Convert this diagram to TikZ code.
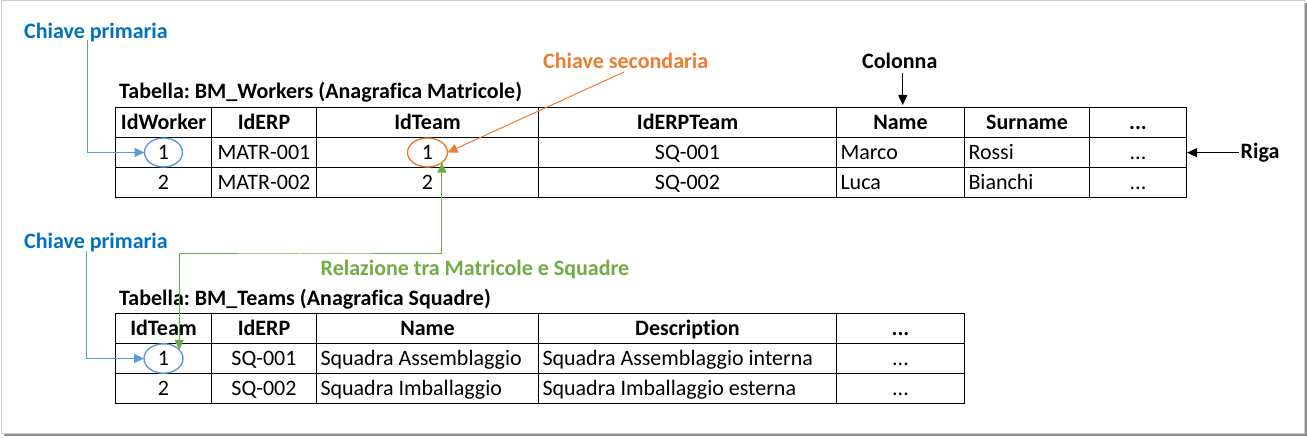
\documentclass[tikz,border=0pt]{standalone}
\usepackage{fontspec}
\setmainfont{Carlito}[Ligatures=NoCommon]
\usetikzlibrary{arrows.meta,shapes.geometric}
\definecolor{cpblue}{HTML}{0070C0}
\definecolor{lnblue}{HTML}{5B9BD5}
\definecolor{orng}{HTML}{ED7D31}
\definecolor{grn}{HTML}{70AD47}
\newcommand\cf{\fontsize{22}{26}\selectfont\frenchspacing}
\begin{document}
\begin{tikzpicture}[x=1pt,y=-1pt,
 cell/.style={draw,line width=1pt,minimum height=30pt,inner ysep=0pt,inner xsep=4pt,text height=16pt,text depth=2pt,anchor=north west,font=\cf},
 hdr/.style={cell,font=\cf\bfseries},
 lft/.style={align=flush left},
 lbl/.style={anchor=base west,inner sep=0pt,font=\cf\bfseries},
 oval/.style={ellipse,draw,line width=1.4pt,inner sep=0pt,outer sep=0pt,font=\cf,text=black},
 conn/.style={line width=1pt,-{Triangle[length=10pt,width=9pt]}},
]
\useasboundingbox (0,0) rectangle (1307,438);
% frame
\fill[black!45] (4,3) rectangle (1306.5,436);
\filldraw[fill=white,draw=black!20,line width=1pt] (1.5,0.5) rectangle (1304,433.5);

% labels
\node[lbl,text=cpblue] (cp1) at (24,39) {Chiave primaria};
\node[lbl,text=cpblue] (cp2) at (24,249) {Chiave primaria};
\node[lbl,text=orng] (cs) at (543,68.5) {Chiave secondaria};
\node[lbl] (col) at (862,68.5) {Colonna};
\node[lbl] (riga) at (1240.5,158.5) {Riga};
\node[lbl] (t1) at (119,99) {Tabella: BM\_Workers (Anagrafica Matricole)};
\node[lbl,text=grn] (rel) at (320.5,276) {Relazione tra Matricole e Squadre};
\node[lbl] (t2) at (119,306) {Tabella: BM\_Teams (Anagrafica Squadre)};

% table 1
\node[hdr,minimum width=96pt]  (h1) at (115,107) {IdWorker};
\node[hdr,minimum width=105pt] (h2) at (211,107) {IdERP};
\node[hdr,minimum width=222pt] (h3) at (316,107) {IdTeam};
\node[hdr,minimum width=298pt] (h4) at (538,107) {IdERPTeam};
\node[hdr,minimum width=128pt] (h5) at (836,107) {Name};
\node[hdr,minimum width=125pt] (h6) at (964,107) {Surname};
\node[hdr,minimum width=97pt]  (h7) at (1089,107) {...};

\node[cell,minimum width=96pt]  (a1) at (115,137) {};
\node[cell,minimum width=105pt] (a2) at (211,137) {MATR-001};
\node[cell,minimum width=222pt] (a3) at (316,137) {};
\node[cell,minimum width=298pt] (a4) at (538,137) {SQ-001};
\node[cell,lft,minimum width=128pt,text width=120pt] (a5) at (836,137) {Marco};
\node[cell,lft,minimum width=125pt,text width=117pt] (a6) at (964,137) {Rossi};
\node[cell,minimum width=97pt]  (a7) at (1089,137) {...};

\node[cell,minimum width=96pt]  (b1) at (115,167) {2};
\node[cell,minimum width=105pt] (b2) at (211,167) {MATR-002};
\node[cell,minimum width=222pt] (b3) at (316,167) {2};
\node[cell,minimum width=298pt] (b4) at (538,167) {SQ-002};
\node[cell,lft,minimum width=128pt,text width=120pt] (b5) at (836,167) {Luca};
\node[cell,lft,minimum width=125pt,text width=117pt] (b6) at (964,167) {Bianchi};
\node[cell,minimum width=97pt]  (b7) at (1089,167) {...};

% table 2
\node[hdr,minimum width=96pt]  (H1) at (115,313) {IdTeam};
\node[hdr,minimum width=105pt] (H2) at (211,313) {IdERP};
\node[hdr,minimum width=222pt] (H3) at (316,313) {Name};
\node[hdr,minimum width=298pt] (H4) at (538,313) {Description};
\node[hdr,minimum width=128pt] (H5) at (836,313) {...};

\node[cell,minimum width=96pt]  (c1) at (115,343) {};
\node[cell,minimum width=105pt] (c2) at (211,343) {SQ-001};
\node[cell,lft,minimum width=222pt,text width=214pt] (c3) at (316,343) {Squadra Assemblaggio};
\node[cell,lft,minimum width=298pt,text width=290pt] (c4) at (538,343) {Squadra Assemblaggio interna};
\node[cell,minimum width=128pt] (c5) at (836,343) {...};

\node[cell,minimum width=96pt]  (d1) at (115,373) {2};
\node[cell,minimum width=105pt] (d2) at (211,373) {SQ-002};
\node[cell,lft,minimum width=222pt,text width=214pt] (d3) at (316,373) {Squadra Imballaggio};
\node[cell,lft,minimum width=298pt,text width=290pt] (d4) at (538,373) {Squadra Imballaggio esterna};
\node[cell,minimum width=128pt] (d5) at (836,373) {...};

% ovals
\node[oval,draw=lnblue,minimum width=38pt,minimum height=29pt] (e1) at (a1.center) {1};
\node[oval,draw=orng,minimum width=40pt,minimum height=29pt] (e2) at (a3.center) {1};
\node[oval,draw=lnblue,minimum width=39pt,minimum height=29.4pt] (e3) at (c1.center) {1};

% connectors
\draw[conn,lnblue] ([xshift=63pt,yshift=-1pt]cp1.base west) |- (e1.west);
\draw[conn,lnblue] ([xshift=62pt,yshift=-2pt]cp2.base west) |- (e3.west);
\draw[conn,orng] ([xshift=81pt,yshift=-3.5pt]cs.base west) -- (e2.east);
\coordinate (g1) at (300,254);
\draw[line width=1pt,grn,{Triangle[length=10pt,width=9pt]}-{Triangle[length=10pt,width=9pt]}] (e2.-35) |- (g1) -| (e3.29);
\coordinate (colA) at ([xshift=3pt,yshift=-4pt]col.south);
\draw[conn] (colA) -- ([yshift=2pt]colA |- h5.north);
\draw[conn] ([xshift=-2pt]riga.west) -- (riga.west -| a7.east);
\end{tikzpicture}
\end{document}
